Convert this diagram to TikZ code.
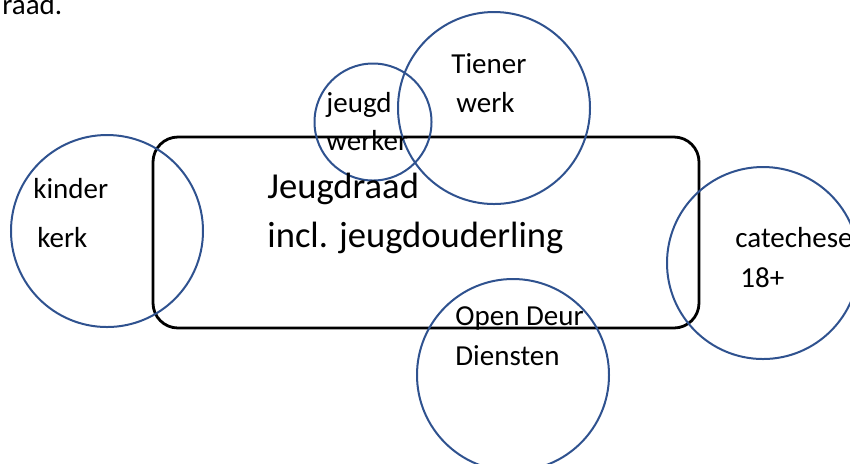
\documentclass[tikz,border=0pt]{standalone}
\usepackage{fontspec}
\setmainfont{Carlito}
\definecolor{ringblue}{RGB}{47,82,143}
\begin{document}
\begin{tikzpicture}
        [
            x = 0.5pt, y = -0.5pt,
            ring/.style={circle, draw=ringblue, line width=1pt, minimum size=#1, inner sep=0pt},
            ring/.default=96pt,
            label/.style={anchor=base west, inner sep=0pt, font=\fontsize{14.5pt}{17pt}\selectfont},
            biglabel/.style={anchor=base west, inner sep=0pt, font=\fontsize{18.3pt}{22pt}\selectfont},
        ]
        \useasboundingbox (0,0) rectangle (850,463);
        \node[draw, line width=1.4pt, rounded corners=12.5pt, minimum width=273pt, minimum height=95.5pt] (raad) at (426,232.5) {};
        \node[ring] (kinder) at (107,231) {};
        \node[ring=58.5pt] (werker) at (373,122) {};
        \node[ring] (tiener) at (494,108) {};
        \node[ring] (cat) at (763,263) {};
        \node[ring] (deur) at (513,375) {};
        \node[label] (top) at (2,14) {raad.};
        \node[label] (kinder1) at (33,198) {kinder};
        \node[label] (kinder2) at (37,247) {kerk};
        \node[label] (werker1) at (326,112) {jeugd};
        \node[label] (werker2) at (326,150) {werker};
        \node[label] (tiener1) at (451,73) {Tiener};
        \node[label] (tiener2) at (456,112) {werk};
        \node[biglabel] (raad1) at (267,198) {Jeugdraad};
        \node[biglabel] (raad2) at (267,247) {incl. jeugdouderling};
        \node[label] (cat1) at (735,247) {catechese};
        \node[label] (cat2) at (740,287) {18+};
        \node[label] (deur1) at (455,325) {Open Deur};
        \node[label] (deur2) at (455,365) {Diensten};
    \end{tikzpicture}
\end{document}
